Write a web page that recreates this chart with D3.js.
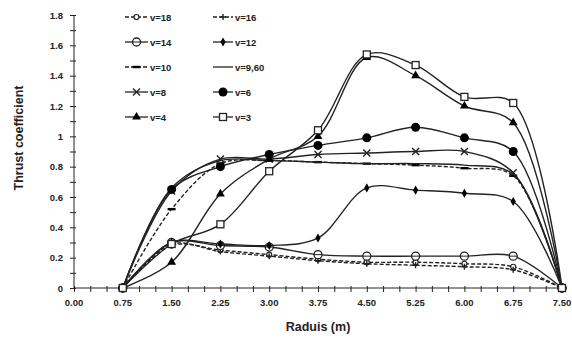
<!DOCTYPE html>
<html>
<head>
<meta charset="utf-8">
<script src="https://cdn.jsdelivr.net/npm/d3@7"></script>
<style>
  body { margin: 0; background: #fff; }
  svg { font-family: "Liberation Sans", Arial, sans-serif; font-weight: bold; }
</style>
</head>
<body>
<svg id="chart" width="572" height="342"></svg>
<script>
// radius positions (m)
const radius = [0.75, 1.5, 2.25, 3.0, 3.75, 4.5, 5.25, 6.0, 6.75, 7.5];

// thrust coefficient per wind speed
const v18 = [0, 0.28, 0.25, 0.22, 0.19, 0.17, 0.17, 0.16, 0.14, 0];
const v16 = [0, 0.29, 0.24, 0.21, 0.18, 0.16, 0.15, 0.14, 0.12, 0];
const v14 = [0, 0.30, 0.28, 0.27, 0.22, 0.21, 0.21, 0.21, 0.21, 0];
const v12 = [0, 0.30, 0.29, 0.28, 0.33, 0.66, 0.645, 0.625, 0.57, 0];
const v10 = [0, 0.52, 0.82, 0.84, 0.83, 0.82, 0.81, 0.79, 0.74, 0];
const v960 = [0, 0.66, 0.84, 0.84, 0.83, 0.82, 0.82, 0.81, 0.75, 0];
const v8 = [0, 0.64, 0.85, 0.85, 0.88, 0.89, 0.90, 0.90, 0.76, 0];
const v6 = [0, 0.65, 0.80, 0.88, 0.94, 0.99, 1.06, 0.99, 0.90, 0];
const v4 = [0, 0.17, 0.62, 0.85, 1.0, 1.52, 1.40, 1.20, 1.09, 0];
const v3 = [0, 0.29, 0.42, 0.77, 1.04, 1.54, 1.47, 1.26, 1.22, 0];

const xTicks = [0, 0.75, 1.5, 2.25, 3.0, 3.75, 4.5, 5.25, 6.0, 6.75, 7.5];
const yTicks = [0, 0.2, 0.4, 0.6, 0.8, 1, 1.2, 1.4, 1.6, 1.8];

const series = [
  { name: "v=18", values: v18, dash: "4,2", marker: "smallcircle" },
  { name: "v=16", values: v16, dash: "4,2", marker: "plus" },
  { name: "v=14", values: v14, dash: null, marker: "circle" },
  { name: "v=12", values: v12, dash: null, marker: "diamond" },
  { name: "v=10", values: v10, dash: "4,2", marker: "dash" },
  { name: "v=9,60", values: v960, dash: null, marker: "none" },
  { name: "v=8", values: v8, dash: null, marker: "x" },
  { name: "v=6", values: v6, dash: null, marker: "dot" },
  { name: "v=4", values: v4, dash: null, marker: "triangle" },
  { name: "v=3", values: v3, dash: null, marker: "square" }
];

const svg = d3.select("#chart");
const ink = "#222";

const x = d3.scaleLinear().domain([0, 7.5]).range([74, 562]);
const y = d3.scaleLinear().domain([0, 1.8]).range([288, 15]);

// y axis
const yAxis = svg.append("g").attr("transform", `translate(${x(0)},0)`);
yAxis.call(d3.axisLeft(y).tickValues(d3.range(0, 1.81, 0.1)).tickSize(4).tickFormat(""));
yAxis.selectAll(".tick line").attr("x2", -4).attr("x1", 2);
yAxis.select(".domain").remove();
yAxis.append("line").attr("y1", y(0)).attr("y2", y(1.8)).attr("stroke", ink);
yAxis.selectAll("line").attr("stroke", ink);
svg.append("g").selectAll("text").data(yTicks).join("text")
  .attr("x", 63).attr("y", d => y(d) + 3.5)
  .attr("text-anchor", "end").attr("font-size", 9.5).attr("fill", ink)
  .text(d => d3.format("~g")(d));

// x axis
const xAxis = svg.append("g").attr("transform", `translate(0,${y(0)})`);
xAxis.call(d3.axisBottom(x).tickValues(d3.range(0, 7.51, 0.25)).tickSize(4).tickFormat(""));
xAxis.selectAll(".tick line").attr("y1", -2).attr("y2", 4);
xAxis.select(".domain").remove();
xAxis.append("line").attr("x1", x(0)).attr("x2", x(7.5)).attr("stroke", ink);
xAxis.selectAll("line").attr("stroke", ink);
svg.append("g").selectAll("text").data(xTicks).join("text")
  .attr("x", d => x(d)).attr("y", 306)
  .attr("text-anchor", "middle").attr("font-size", 9.5).attr("fill", ink)
  .text(d => d3.format(".2f")(d));

// axis titles
svg.append("text").attr("x", 318).attr("y", 331).attr("text-anchor", "middle")
  .attr("font-size", 12.5).attr("fill", ink).text("Raduis (m)");
svg.append("text").attr("transform", "translate(23,138) rotate(-90)")
  .attr("text-anchor", "middle").attr("font-size", 12.5).attr("fill", ink)
  .text("Thrust coefficient");

function drawMarker(g, type, cx, cy) {
  if (type === "none") return;
  if (type === "smallcircle") {
    g.append("circle").attr("cx", cx).attr("cy", cy).attr("r", 2.5)
      .attr("fill", "#fff").attr("stroke", ink).attr("stroke-width", 1.2);
  } else if (type === "circle") {
    g.append("circle").attr("cx", cx).attr("cy", cy).attr("r", 4)
      .attr("fill", "#fff").attr("stroke", ink).attr("stroke-width", 1.3);
    g.append("line").attr("x1", cx - 4).attr("x2", cx + 4).attr("y1", cy).attr("y2", cy)
      .attr("stroke", ink).attr("stroke-width", 1);
  } else if (type === "dot") {
    g.append("circle").attr("cx", cx).attr("cy", cy).attr("r", 4.5).attr("fill", "#000");
  } else if (type === "square") {
    g.append("rect").attr("x", cx - 3.5).attr("y", cy - 3.5).attr("width", 7).attr("height", 7)
      .attr("fill", "#fff").attr("stroke", ink).attr("stroke-width", 1.3);
  } else if (type === "triangle") {
    g.append("path").attr("d", d3.symbol(d3.symbolTriangle, 34)())
      .attr("transform", `translate(${cx},${cy})`).attr("fill", "#000");
  } else if (type === "diamond") {
    g.append("path").attr("d", d3.symbol(d3.symbolDiamond, 24)())
      .attr("transform", `translate(${cx},${cy})`).attr("fill", "#000");
  } else if (type === "x") {
    g.append("path").attr("d", `M${cx - 3.5},${cy - 3.5}L${cx + 3.5},${cy + 3.5}M${cx - 3.5},${cy + 3.5}L${cx + 3.5},${cy - 3.5}`)
      .attr("stroke", ink).attr("stroke-width", 1.4);
  } else if (type === "plus") {
    g.append("path").attr("d", `M${cx - 3},${cy}L${cx + 3},${cy}M${cx},${cy - 3}L${cx},${cy + 3}`)
      .attr("stroke", ink).attr("stroke-width", 1.4);
  } else if (type === "dash") {
    g.append("rect").attr("x", cx - 4).attr("y", cy - 1.2).attr("width", 8).attr("height", 2.4)
      .attr("fill", "#000");
  }
}

const line = d3.line()
  .x((d, i) => x(radius[i]))
  .y(d => y(d))
  .curve(d3.curveCatmullRom.alpha(0.5));

const plot = svg.append("g");
series.forEach(s => {
  const g = plot.append("g");
  g.append("path").datum(s.values).attr("d", line)
    .attr("fill", "none").attr("stroke", ink).attr("stroke-width", 1.4)
    .attr("stroke-dasharray", s.dash);
  s.values.forEach((v, i) => drawMarker(g, s.marker, x(radius[i]), y(v)));
});

// legend
const legendRows = [17, 42, 67, 92, 117];
const legend = svg.append("g");
series.forEach((s, i) => {
  const col = i % 2;
  const ly = legendRows[Math.floor(i / 2)];
  const x0 = col === 0 ? 125 : 213;
  const x1 = col === 0 ? 148 : 233;
  const g = legend.append("g");
  g.append("line").attr("x1", x0).attr("x2", x1).attr("y1", ly).attr("y2", ly)
    .attr("stroke", ink).attr("stroke-width", 1.3).attr("stroke-dasharray", s.dash);
  drawMarker(g, s.marker, (x0 + x1) / 2, ly);
  g.append("text").attr("x", x1 + 2).attr("y", ly + 3.5)
    .attr("font-size", 9.5).attr("fill", ink).text(s.name);
});
</script>
</body>
</html>
